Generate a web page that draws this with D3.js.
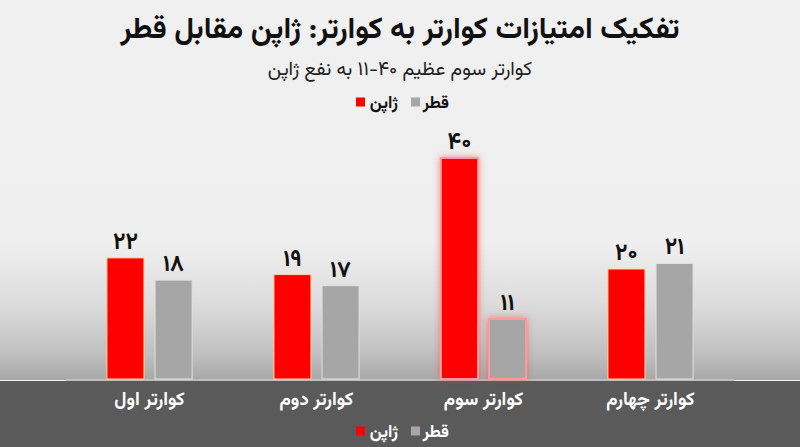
<!DOCTYPE html>
<html lang="fa">
<head>
<meta charset="utf-8">
<script src="https://cdn.jsdelivr.net/npm/d3@7"></script>
<style>
  html, body { margin: 0; padding: 0; background: #f0f0f0; }
  svg { display: block; }
  text { font-family: "Vazirmatn", "Noto Sans Arabic", "DejaVu Sans", sans-serif; }
</style>
</head>
<body>
<svg id="chart" width="800" height="447"></svg>
<script>
// ---- data ----
const categories = ["کوارتر اول", "کوارتر دوم", "کوارتر سوم", "کوارتر چهارم"];
const seriesNames = ["ژاپن", "قطر"];
const japanValues = [22, 19, 40, 20];
const qatarValues = [18, 17, 11, 21];
const highlightCategory = "کوارتر سوم";
const titleText = "تفکیک امتیازات کوارتر به کوارتر: ژاپن مقابل قطر";
const subtitleText = "کوارتر سوم عظیم ۴۰-۱۱ به نفع ژاپن";

const colors = { "ژاپن": "#ff0000", "قطر": "#a6a6a6" };
const toFa = n => String(n).replace(/\d/g, d => "۰۱۲۳۴۵۶۷۸۹"[+d]);

const W = 800, H = 447;
const svg = d3.select("#chart");
const defs = svg.append("defs");

const grad = defs.append("linearGradient").attr("id", "bg").attr("x1", 0).attr("y1", 0).attr("x2", 0).attr("y2", 1);
grad.append("stop").attr("offset", "0").attr("stop-color", "#f0f0f0");
grad.append("stop").attr("offset", "0.64").attr("stop-color", "#efefef");
grad.append("stop").attr("offset", "0.8").attr("stop-color", "#dcdcdc");
grad.append("stop").attr("offset", "0.93").attr("stop-color", "#c0c0c0");
grad.append("stop").attr("offset", "1").attr("stop-color", "#a8a8a8");

const glow = defs.append("filter").attr("id", "glow").attr("x", "-40%").attr("y", "-20%").attr("width", "180%").attr("height", "140%");
glow.append("feDropShadow").attr("dx", 0).attr("dy", 0).attr("stdDeviation", 3).attr("flood-color", "#ff3030").attr("flood-opacity", 0.55);

const baseY = 380;
svg.append("rect").attr("x", 0).attr("y", 0).attr("width", W).attr("height", baseY).attr("fill", "url(#bg)");
svg.append("rect").attr("x", 0).attr("y", baseY + 1).attr("width", W).attr("height", H - baseY - 1).attr("fill", "#5a5a5a");

// scales
const x0 = d3.scaleBand().domain(categories).range([66, 734]).paddingInner(0.49).paddingOuter(0.245);
const x1 = d3.scaleBand().domain(seriesNames).range([0, x0.bandwidth()]).paddingInner(0.23);
const y = d3.scaleLinear().domain([0, 45]).range([baseY, baseY - 45 * 5.55]);

const rows = categories.map((c, i) => ({ cat: c, vals: [
  { s: seriesNames[0], v: japanValues[i] },
  { s: seriesNames[1], v: qatarValues[i] }
]}));

// axis line
svg.append("line").attr("x1", x0.range()[0]).attr("x2", x0.range()[1])
  .attr("y1", baseY).attr("y2", baseY).attr("stroke", "#bdbdbd").attr("stroke-width", 2);

const groups = svg.append("g").selectAll("g").data(rows).join("g")
  .attr("transform", d => `translate(${x0(d.cat)},0)`);

groups.selectAll("rect").data(d => d.vals.map(v => ({ ...v, cat: d.cat }))).join("rect")
  .attr("x", d => x1(d.s))
  .attr("width", x1.bandwidth())
  .attr("y", d => y(d.v))
  .attr("height", d => y(0) - y(d.v) - 1)
  .attr("fill", d => colors[d.s])
  .attr("stroke", d => d.cat === highlightCategory ? "#ff9a9a" : (d.s === "قطر" ? "#e2e2e2" : "#ffd9a0"))
  .attr("stroke-width", d => d.cat === highlightCategory ? 2 : 1)
  .attr("filter", d => d.cat === highlightCategory ? "url(#glow)" : null);

groups.selectAll("text.val").data(d => d.vals).join("text")
  .attr("class", "val")
  .attr("x", d => x1(d.s) + x1.bandwidth() / 2)
  .attr("y", d => y(d.v) - 9)
  .attr("text-anchor", "middle")
  .attr("font-size", 23).attr("font-weight", 700).attr("fill", "#111")
  .text(d => toFa(d.v));

// category labels
svg.append("g").selectAll("text").data(categories).join("text")
  .attr("x", d => x0(d) + x0.bandwidth() / 2)
  .attr("y", 405)
  .attr("text-anchor", "middle")
  .attr("direction", "rtl")
  .attr("font-size", 18.5).attr("font-weight", 700).attr("fill", "#ffffff")
  .text(d => d);

// titles
svg.append("text").attr("x", W / 2).attr("y", 38).attr("text-anchor", "middle").attr("direction", "rtl")
  .attr("font-size", 30).attr("font-weight", 700).attr("fill", "#111").text(titleText);
svg.append("text").attr("x", W / 2).attr("y", 75).attr("text-anchor", "middle").attr("direction", "rtl")
  .attr("font-size", 19.5).attr("fill", "#222").text(subtitleText);

// legends
function legend(cy, textColor) {
  const g = svg.append("g");
  // right to left: قطر (gray) then ژاپن (red); square to the left of each label
  const items = [
    { s: "قطر", right: 449, sqx: 411 },
    { s: "ژاپن", right: 398, sqx: 356 }
  ];
  items.forEach(it => {
    g.append("rect").attr("x", it.sqx).attr("y", cy - 4.5).attr("width", 9).attr("height", 9).attr("fill", colors[it.s]);
    g.append("text").attr("x", it.right).attr("y", cy + 6).attr("text-anchor", "end")
      .attr("font-size", 17).attr("font-weight", 700).attr("fill", textColor).text(it.s);
  });
}
legend(102, "#111");
legend(431, "#ffffff");
</script>
</body>
</html>
